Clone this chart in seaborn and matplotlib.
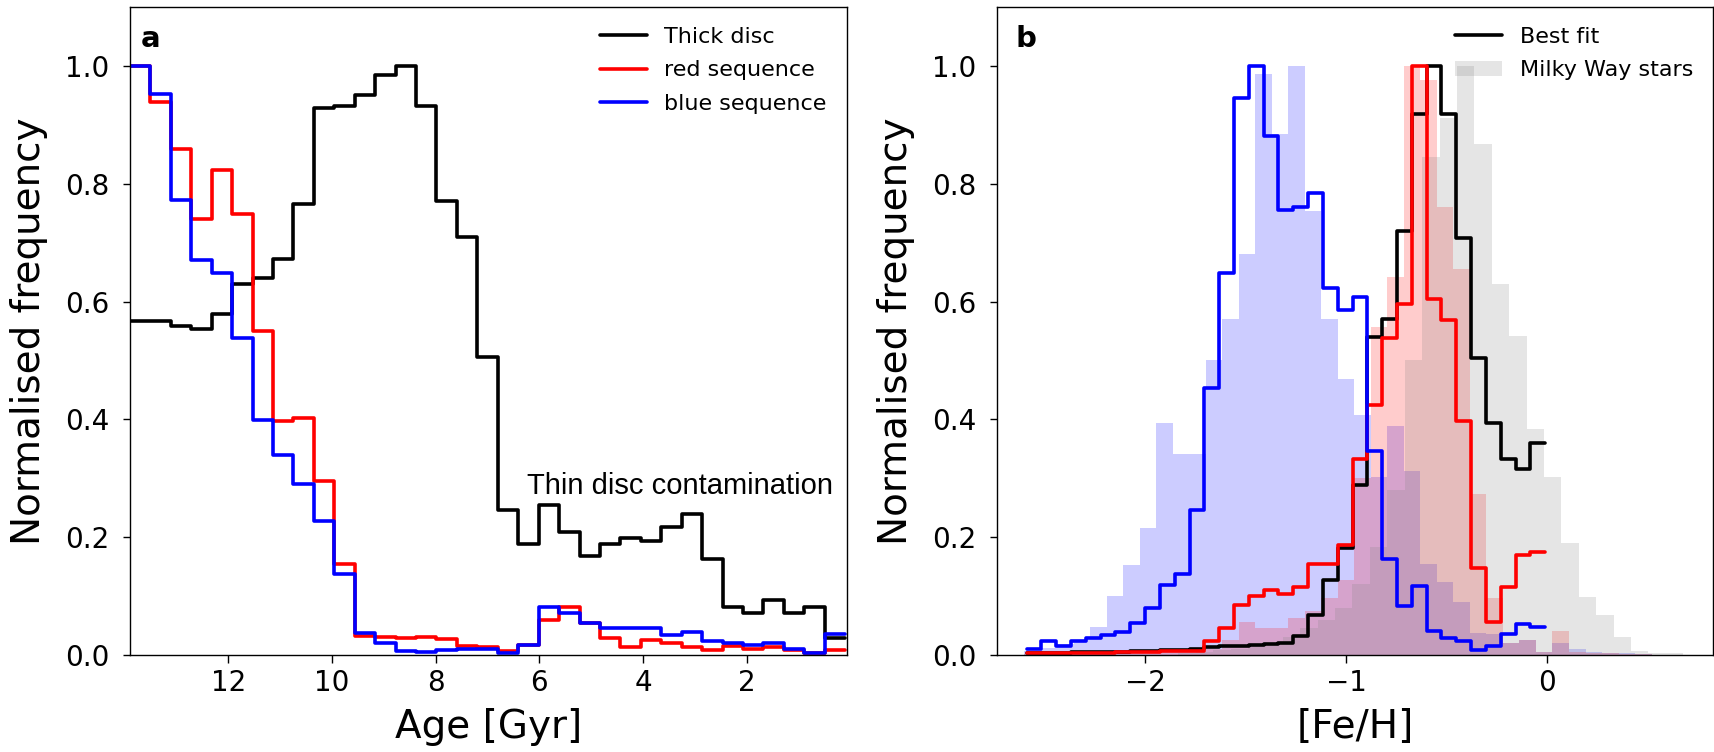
import numpy as np
import matplotlib
matplotlib.use("Agg")
import matplotlib.pyplot as plt
import seaborn as sns

sns.set_style("ticks")
plt.rcParams["font.family"] = ["DejaVu Sans"]
plt.rcParams.update({"text.color": "black", "axes.labelcolor": "black",
                     "xtick.color": "black", "ytick.color": "black",
                     "axes.edgecolor": "black"})

# ---- panel a: age distributions, bins listed from oldest (13.9 Gyr) to youngest
age_edges = np.linspace(0.1, 13.9, 36)
thick_disc_age = [0.567, 0.567, 0.559, 0.554, 0.578, 0.629, 0.640, 0.672, 0.766, 0.929,
                  0.932, 0.951, 0.985, 1.000, 0.932, 0.770, 0.710, 0.506, 0.246, 0.189,
                  0.254, 0.208, 0.168, 0.189, 0.198, 0.194, 0.217, 0.239, 0.163, 0.082,
                  0.072, 0.094, 0.072, 0.082, 0.028]
red_seq_age = [1.000, 0.938, 0.859, 0.740, 0.824, 0.749, 0.550, 0.398, 0.403, 0.295,
               0.154, 0.032, 0.030, 0.028, 0.031, 0.027, 0.015, 0.013, 0.006, 0.017,
               0.059, 0.082, 0.054, 0.028, 0.014, 0.025, 0.020, 0.014, 0.008, 0.015,
               0.011, 0.014, 0.008, 0.004, 0.008]
blue_seq_age = [1.000, 0.952, 0.773, 0.671, 0.648, 0.538, 0.399, 0.339, 0.290, 0.228,
                0.138, 0.038, 0.020, 0.007, 0.005, 0.009, 0.010, 0.010, 0.004, 0.017,
                0.082, 0.072, 0.055, 0.045, 0.045, 0.045, 0.034, 0.039, 0.024, 0.020,
                0.017, 0.020, 0.011, 0.004, 0.035]
age_ticks = [12, 10, 8, 6, 4, 2]

# ---- panel b: [Fe/H] distributions
feh_line_edges = np.linspace(-2.59, -0.01, 36)
best_fit_feh = [0.003, 0.003, 0.003, 0.005, 0.005, 0.005, 0.005, 0.006, 0.007, 0.008,
                0.009, 0.011, 0.013, 0.015, 0.016, 0.017, 0.018, 0.020, 0.032, 0.068,
                0.128, 0.182, 0.288, 0.540, 0.571, 0.719, 0.918, 1.000, 0.918, 0.708,
                0.505, 0.394, 0.333, 0.315, 0.360]
red_line_feh = [0.003, 0.003, 0.003, 0.003, 0.003, 0.003, 0.005, 0.005, 0.005, 0.007,
                0.007, 0.006, 0.024, 0.046, 0.085, 0.100, 0.111, 0.104, 0.115, 0.155,
                0.155, 0.186, 0.333, 0.424, 0.538, 0.596, 1.000, 0.605, 0.568, 0.398,
                0.148, 0.056, 0.116, 0.170, 0.175]
blue_line_feh = [0.010, 0.023, 0.015, 0.024, 0.028, 0.034, 0.039, 0.055, 0.079, 0.119,
                 0.138, 0.246, 0.454, 0.648, 0.945, 1.000, 0.881, 0.755, 0.761, 0.784,
                 0.623, 0.585, 0.607, 0.347, 0.163, 0.084, 0.117, 0.041, 0.029, 0.024,
                 0.008, 0.016, 0.035, 0.052, 0.048]

feh_fill_edges = -2.601 + 0.0821 * np.arange(39)
blue_stars_feh = [0.006, 0.012, 0.018, 0.025, 0.048, 0.100, 0.153, 0.215, 0.394, 0.342,
                  0.342, 0.500, 0.571, 0.680, 0.987, 0.884, 1.000, 0.754, 0.571, 0.469,
                  0.407, 0.302, 0.388, 0.312, 0.155, 0.124, 0.090, 0.037, 0.036, 0.020,
                  0.026, 0.005, 0.020, 0.010, 0.005, 0.003, 0.003, 0.002]
red_stars_feh = [0.002, 0.002, 0.002, 0.002, 0.003, 0.003, 0.003, 0.004, 0.005, 0.006,
                 0.007, 0.010, 0.025, 0.056, 0.045, 0.045, 0.062, 0.075, 0.097, 0.127,
                 0.300, 0.556, 0.642, 1.000, 0.976, 0.761, 0.655, 0.274, 0.096, 0.020,
                 0.025, 0.005, 0.040, 0.005, 0.004, 0.003, 0.002, 0.001]

mw_edges = -1.8346 + 0.0866 * np.arange(30)
mw_stars_feh = [0.003, 0.005, 0.008, 0.010, 0.015, 0.020, 0.030, 0.045, 0.060, 0.080,
                0.120, 0.184, 0.280, 0.500, 0.845, 0.912, 1.000, 0.867, 0.630, 0.542,
                0.384, 0.302, 0.190, 0.099, 0.068, 0.031, 0.007, 0.004, 0.004]
feh_ticks = [-2, -1, 0]


def step_hist(ax, edges, values, **kw):
    edges = np.asarray(edges, dtype=float)
    centres = 0.5 * (edges[:-1] + edges[1:])
    return sns.histplot(x=centres, weights=np.asarray(values), bins=edges.tolist(),
                        element="step", ax=ax, **kw)


fig = plt.figure(figsize=(17.15, 7.52), dpi=100)
ax1 = fig.add_axes([0.0758, 0.129, 0.4179, 0.8617])
ax2 = fig.add_axes([0.5812, 0.129, 0.4178, 0.8617])

lw = 2.6
label_size = 28
leg_kw = dict(loc="upper right", frameon=False, fontsize=16, handlelength=2.1,
              labelspacing=0.6)

# panel a (age axis runs old -> young, data lists are oldest first)
step_hist(ax1, age_edges, thick_disc_age[::-1], fill=False, color="k", linewidth=lw)
step_hist(ax1, age_edges, red_seq_age[::-1], fill=False, color="r", linewidth=lw)
step_hist(ax1, age_edges, blue_seq_age[::-1], fill=False, color="b", linewidth=lw)
ax1.legend(ax1.lines[:3], ["Thick disc", "red sequence", "blue sequence"], **leg_kw)
ax1.set_xlim(13.9, 0.07)
ax1.set_ylim(0, 1.1)
ax1.set_xticks(age_ticks)
ax1.set_yticks([0.0, 0.2, 0.4, 0.6, 0.8, 1.0])
ax1.set_xlabel("Age [Gyr]", fontsize=label_size, labelpad=8)
ax1.set_ylabel("Normalised frequency", fontsize=label_size, labelpad=12)
ax1.text(6.23, 0.274, "Thin disc contamination", family=["Liberation Sans", "DejaVu Sans"],
         fontsize=21, ha="left", va="baseline")
ax1.text(0.015, 0.939, "a", transform=ax1.transAxes, fontsize=21, fontweight="bold",
         va="baseline")

# panel b
step_hist(ax2, feh_fill_edges, blue_stars_feh, fill=True, color="b", alpha=0.2, linewidth=0)
step_hist(ax2, feh_fill_edges, red_stars_feh, fill=True, color="r", alpha=0.2, linewidth=0)
step_hist(ax2, mw_edges, mw_stars_feh, fill=True, color="grey", alpha=0.2, linewidth=0)
mw_handle = ax2.collections[-1]
step_hist(ax2, feh_line_edges, best_fit_feh, fill=False, color="k", linewidth=lw)
step_hist(ax2, feh_line_edges, red_line_feh, fill=False, color="r", linewidth=lw)
step_hist(ax2, feh_line_edges, blue_line_feh, fill=False, color="b", linewidth=lw)
ax2.legend([ax2.lines[0], mw_handle], ["Best fit", "Milky Way stars"], **leg_kw)
ax2.set_xlim(-2.738, 0.826)
ax2.set_ylim(0, 1.1)
ax2.set_xticks(feh_ticks)
ax2.set_yticks([0.0, 0.2, 0.4, 0.6, 0.8, 1.0])
ax2.set_xlabel("[Fe/H]", fontsize=label_size, labelpad=8)
ax2.set_ylabel("Normalised frequency", fontsize=label_size, labelpad=12)
ax2.text(0.026, 0.939, "b", transform=ax2.transAxes, fontsize=21, fontweight="bold",
         va="baseline")

for ax in (ax1, ax2):
    ax.tick_params(labelsize=20, length=5.4, width=1)
    ax.tick_params(axis="x", pad=4.8)
    ax.tick_params(axis="y", pad=9.5)
    for s in ax.spines.values():
        s.set_linewidth(1.0)

fig.savefig("out.png", dpi=100)
